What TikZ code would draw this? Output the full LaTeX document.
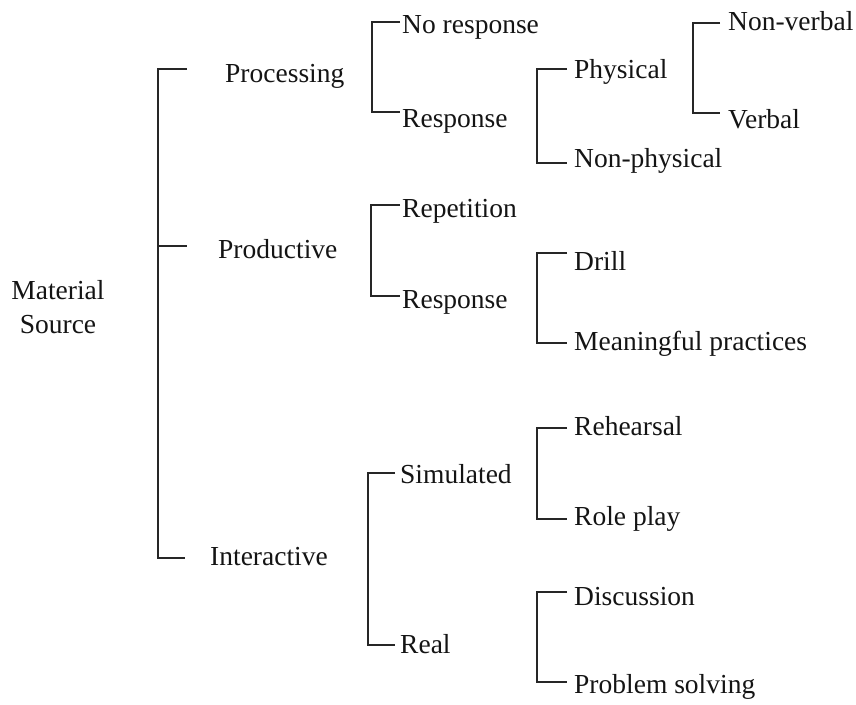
\documentclass[tikz,border=0pt]{standalone}
\usepackage{fontspec}
\setmainfont{Liberation Serif}
\begin{document}
\begin{tikzpicture}[x=1pt,y=-1pt,
  lbl/.style={anchor=base west,inner sep=0pt,font=\fontsize{27.5}{34}\selectfont,text=black!92},
  brk/.style={line width=1.5pt,draw=black!85,line join=miter}]
\useasboundingbox (0,0) rectangle (856,704);
% texts
\node[anchor=center,align=center,inner sep=0pt,font=\fontsize{27.5}{34}\selectfont,text=black!92] (root) at (58,307) {Material\\Source};
\node[lbl] (proc) at (225,82) {Processing};
\node[lbl] (prod) at (218,258) {Productive};
\node[lbl] (inter) at (210,565) {Interactive};
\node[lbl] (noresp) at (402,33) {No response};
\node[lbl] (resp1) at (402,127) {Response};
\node[lbl] (rep) at (402,217) {Repetition};
\node[lbl] (resp2) at (402,308) {Response};
\node[lbl] (sim) at (400,483) {Simulated};
\node[lbl] (real) at (400,653) {Real};
\node[lbl] (phys) at (574,78) {Physical};
\node[lbl] (nphys) at (574,167) {Non-physical};
\node[lbl] (drill) at (574,270) {Drill};
\node[lbl] (mean) at (574,350) {Meaningful practices};
\node[lbl] (reh) at (574,435) {Rehearsal};
\node[lbl] (role) at (574,525) {Role play};
\node[lbl] (disc) at (574,605) {Discussion};
\node[lbl] (prob) at (574,693) {Problem solving};
\node[lbl] (nverb) at (728,30) {Non-verbal};
\node[lbl] (verb) at (728,128) {Verbal};
% bracket coordinates
\coordinate (m1) at (187,69);  \coordinate (m2) at (187,246); \coordinate (m3) at (185,558);
\coordinate (mt) at (158,69);  \coordinate (mb) at (158,558);
\coordinate (p1) at (400,22);  \coordinate (p2) at (400,112);
\coordinate (pt) at (372,22);  \coordinate (pb) at (372,112);
\coordinate (q1) at (400,205); \coordinate (q2) at (400,296);
\coordinate (qt) at (371,205); \coordinate (qb) at (371,296);
\coordinate (i1) at (395,473); \coordinate (i2) at (395,645);
\coordinate (it) at (368,473); \coordinate (ib) at (368,645);
\coordinate (f1) at (567,69);  \coordinate (f2) at (567,163);
\coordinate (ft) at (537,69);  \coordinate (fb) at (537,163);
\coordinate (v1) at (720,23);  \coordinate (v2) at (720,113);
\coordinate (vt) at (693,23);  \coordinate (vb) at (693,113);
\coordinate (d1) at (567,253); \coordinate (d2) at (567,343);
\coordinate (dt) at (537,253); \coordinate (db) at (537,343);
\coordinate (r1) at (567,428); \coordinate (r2) at (567,519);
\coordinate (rt) at (537,428); \coordinate (rb) at (537,519);
\coordinate (s1) at (567,592); \coordinate (s2) at (567,682);
\coordinate (st) at (537,592); \coordinate (sb) at (537,682);
% brackets
\draw[brk] (m1) -- (mt) -- (mb) -- (m3);
\draw[brk] (mt |- m2) -- (m2);
\draw[brk] (p1) -- (pt) -- (pb) -- (p2);
\draw[brk] (q1) -- (qt) -- (qb) -- (q2);
\draw[brk] (i1) -- (it) -- (ib) -- (i2);
\draw[brk] (f1) -- (ft) -- (fb) -- (f2);
\draw[brk] (v1) -- (vt) -- (vb) -- (v2);
\draw[brk] (d1) -- (dt) -- (db) -- (d2);
\draw[brk] (r1) -- (rt) -- (rb) -- (r2);
\draw[brk] (s1) -- (st) -- (sb) -- (s2);
\end{tikzpicture}
\end{document}
